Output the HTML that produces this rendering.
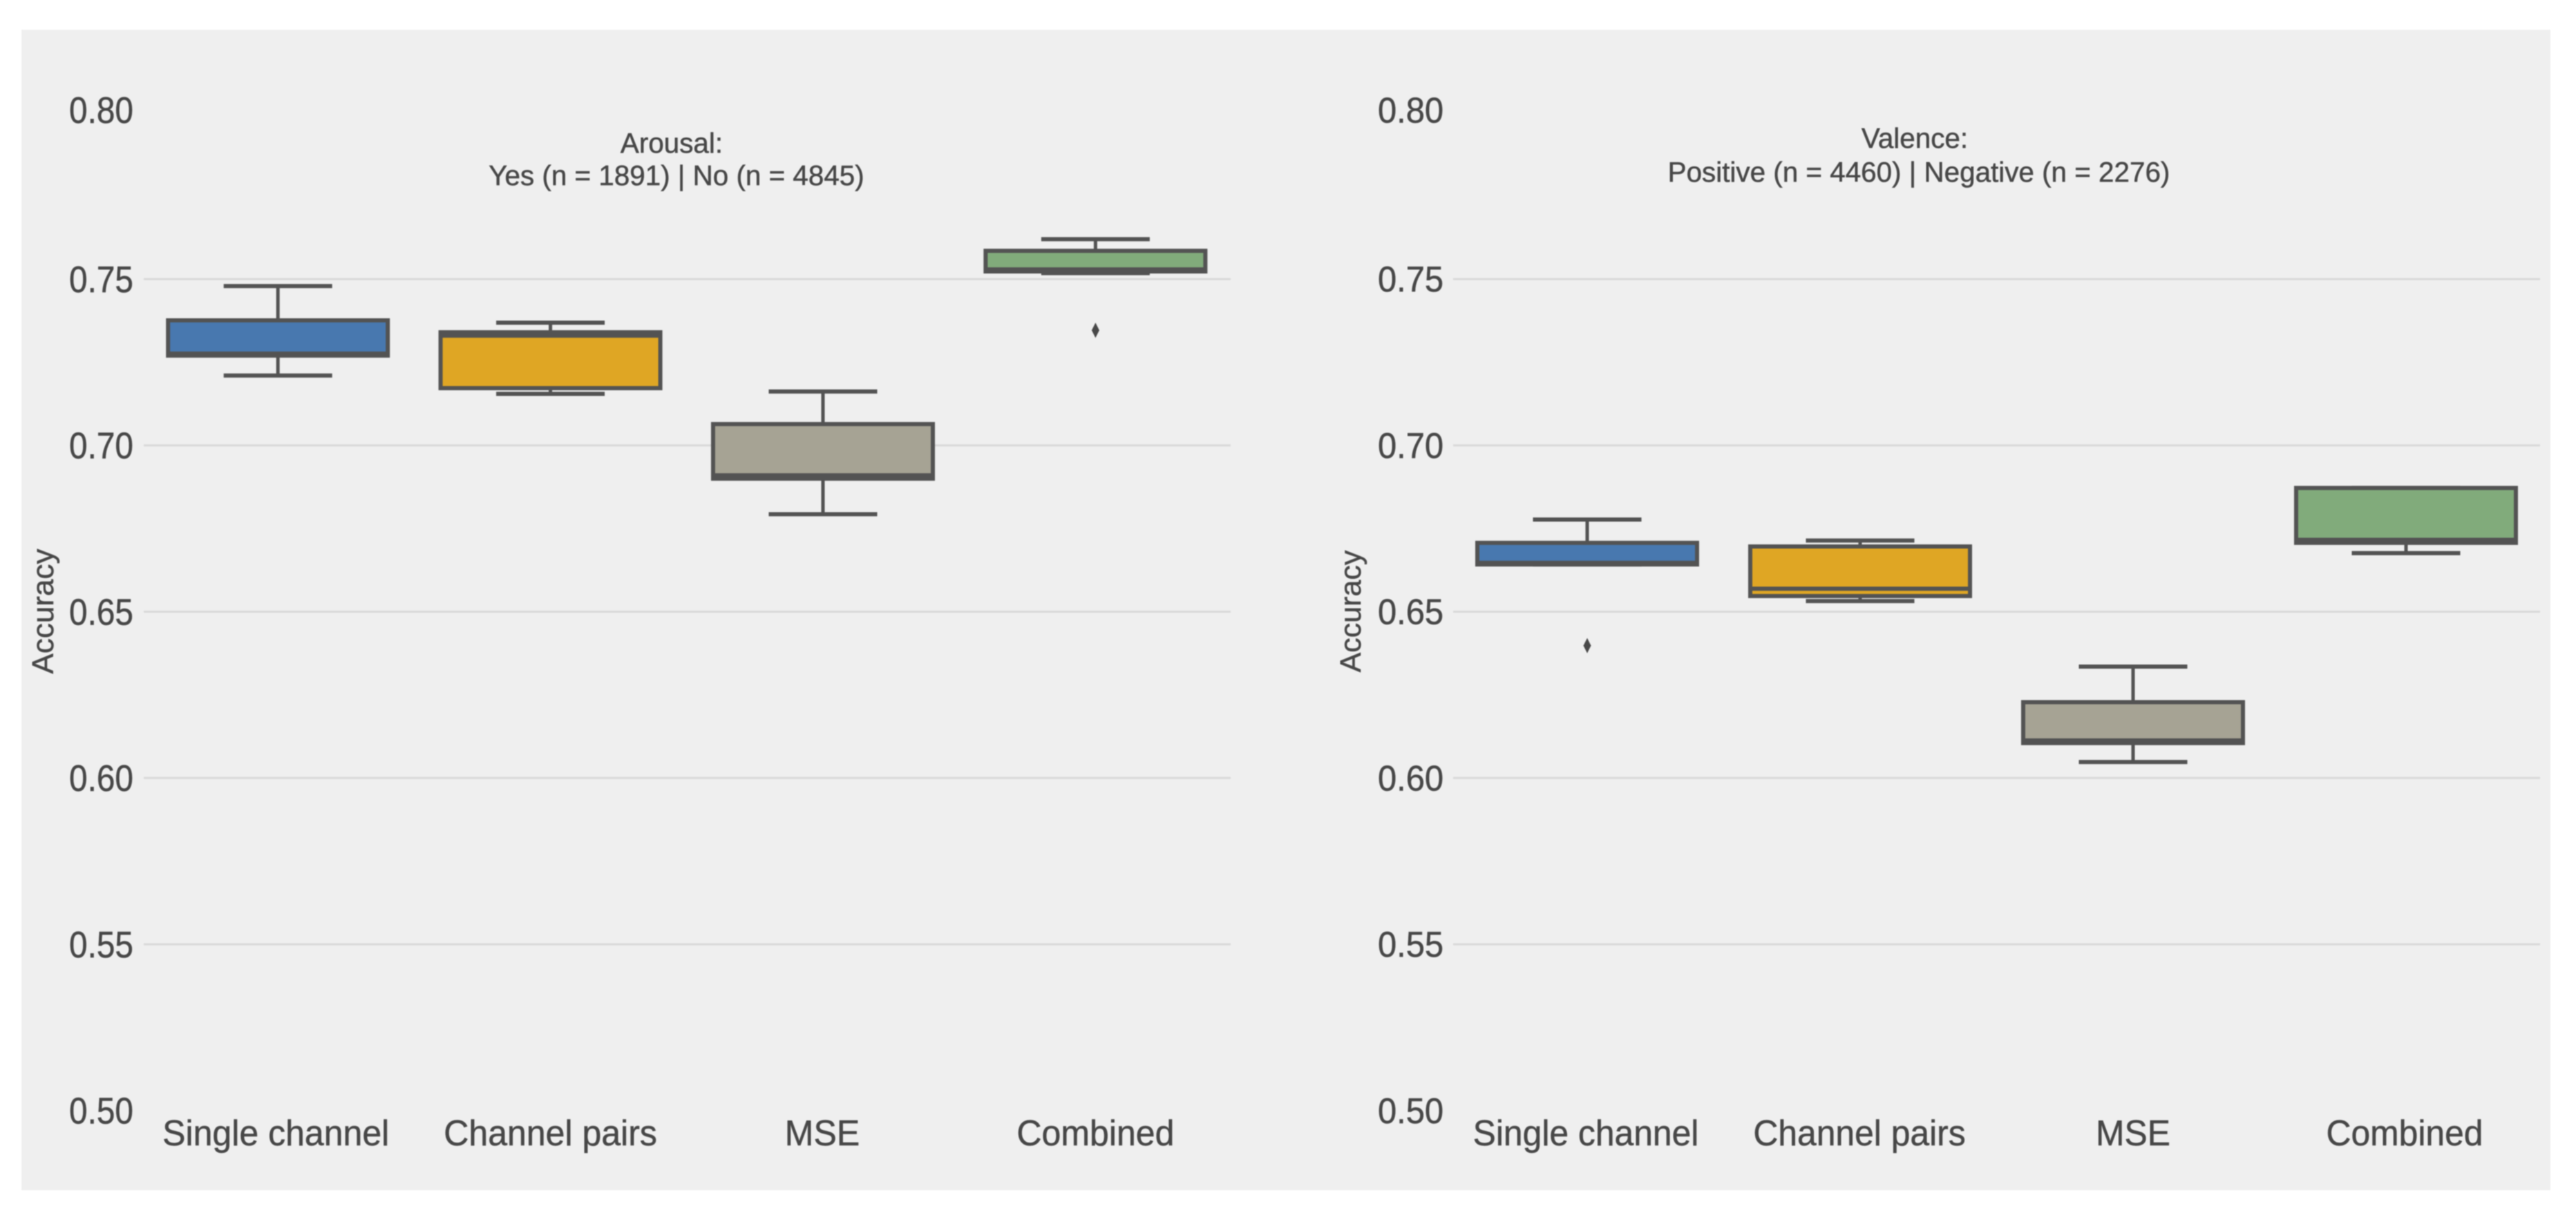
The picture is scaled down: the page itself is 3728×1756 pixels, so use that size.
<!DOCTYPE html>
<html lang="en">
<head>
<meta charset="utf-8">
<title>Accuracy box plots: Arousal and Valence</title>
<style>
  html, body { margin: 0; padding: 0; background: #ffffff; width: 3728px; height: 1756px; overflow: hidden; }
  svg { display: block; }
  text { font-family: "Liberation Sans", Arial, sans-serif; fill: #474747; stroke: #474747; stroke-width: 0.5px; }
</style>
</head>
<body>
<svg id="chart" xmlns="http://www.w3.org/2000/svg" width="3728" height="1756" viewBox="0 0 3728 1756">
  <g id="root" style="filter: blur(0.9px)">
    <rect x="31" y="43" width="3660" height="1680" fill="#efefef"></rect>
  </g>
</svg>
<script>
const categories = ["Single channel", "Channel pairs", "MSE", "Combined"];
const yTickValues = [0.80, 0.75, 0.70, 0.65, 0.60, 0.55, 0.50];
const yTickLabels = ["0.80", "0.75", "0.70", "0.65", "0.60", "0.55", "0.50"];
const boxColors = ["#4878af", "#dfa624", "#a6a394", "#81ab7b"];

const arousalWhiskerHigh = [0.7479, 0.7369, 0.7162, 0.7620];
const arousalQ3 = [0.7376, 0.7340, 0.7064, 0.7585];
const arousalMedian = [0.7276, 0.7330, 0.6910, 0.7529];
const arousalQ1 = [0.7270, 0.7172, 0.6900, 0.7523];
const arousalWhiskerLow = [0.7210, 0.7155, 0.6793, 0.7518];
const arousalOutliers = [null, null, null, 0.7346];

const valenceWhiskerHigh = [0.6777, 0.6714, 0.6335, 0.6872];
const valenceQ3 = [0.6707, 0.6696, 0.6228, 0.6872];
const valenceMedian = [0.6647, 0.6569, 0.6113, 0.6716];
const valenceQ1 = [0.6642, 0.6547, 0.6105, 0.6707];
const valenceWhiskerLow = [0.6642, 0.6532, 0.6048, 0.6676];
const valenceOutliers = [0.6398, null, null, null];

const SVG_NS = "http://www.w3.org/2000/svg";
const root = document.getElementById("root");
const LINE = "#535353";

function yScale(v) {
  return 404 + (0.75 - v) * 4815;
}

function make(tag, attrs, name, parent) {
  const el = document.createElementNS(SVG_NS, tag);
  for (const k in attrs) el.setAttribute(k, attrs[k]);
  
  
  parent.appendChild(el);
  return el;
}

function label(str, x, y, size, sx, name, parent) {
  const el = make("text", {
    "transform": "translate(" + x + "," + y + ") scale(" + sx + ",1)",
    "font-size": size,
    "text-anchor": "middle"
  }, name, parent);
  el.textContent = str;
  return el;
}

function drawPanel(p) {
  const g = make("g", {}, p.id + "-panel", root);
  const xCenter = function (i) { return p.x0 + (i + 0.5) * p.step; };

  yTickValues.forEach(function (t, i) {
    if (i > 0 && i < yTickValues.length - 1) {
      make("line", {
        x1: p.gridLeft, x2: p.gridRight, y1: yScale(t), y2: yScale(t),
        stroke: "#d9d9d9", "stroke-width": 3
      }, p.id + "-gridline-" + yTickLabels[i], g);
    }
    const nudge = i === 0 ? -4 : 0;
    label(yTickLabels[i], p.tickX, yScale(t) + nudge + p.tickFont * 0.35, p.tickFont, p.tickScale,
      p.id + "-y-tick-" + yTickLabels[i], g);
  });

  categories.forEach(function (cat, i) {
    const cx = xCenter(i);
    const slug = cat.toLowerCase().replace(/ /g, "-");
    const boxW = 318;
    const capW = 157;
    const box = make("g", {}, p.id + "-box-" + slug, g);
    make("line", { x1: cx, x2: cx, y1: yScale(p.high[i]), y2: yScale(p.q3[i]), stroke: LINE, "stroke-width": 5 }, "upper-whisker", box);
    make("line", { x1: cx, x2: cx, y1: yScale(p.q1[i]), y2: yScale(p.low[i]), stroke: LINE, "stroke-width": 5 }, "lower-whisker", box);
    make("line", { x1: cx - capW / 2, x2: cx + capW / 2, y1: yScale(p.high[i]), y2: yScale(p.high[i]), stroke: LINE, "stroke-width": 6 }, "upper-cap", box);
    make("line", { x1: cx - capW / 2, x2: cx + capW / 2, y1: yScale(p.low[i]), y2: yScale(p.low[i]), stroke: LINE, "stroke-width": 6 }, "lower-cap", box);
    make("rect", {
      x: cx - boxW / 2, y: yScale(p.q3[i]), width: boxW, height: yScale(p.q1[i]) - yScale(p.q3[i]),
      fill: boxColors[i], stroke: LINE, "stroke-width": 6
    }, "interquartile-box", box);
    make("line", { x1: cx - boxW / 2, x2: cx + boxW / 2, y1: yScale(p.median[i]), y2: yScale(p.median[i]), stroke: LINE, "stroke-width": 6 }, "median-line", box);
    if (p.outliers[i] !== null) {
      const oy = yScale(p.outliers[i]);
      make("path", {
        d: "M" + cx + " " + (oy - 11) + "L" + (cx + 5.5) + " " + oy + "L" + cx + " " + (oy + 11) + "L" + (cx - 5.5) + " " + oy + "Z",
        fill: "#484848"
      }, "outlier-point", box);
    }
    label(cat, cx + p.catShift[i], 1658, 52, p.catScale, p.id + "-x-label-" + slug, g);
  });

  label(p.title1, p.title1X, p.title1Y, 40.4, 1, p.id + "-title-line-1", g);
  label(p.title2, p.title2X, p.title2Y, 40.4, 1, p.id + "-title-line-2", g);

  const yl = make("text", {
    "transform": "translate(" + p.yLabelX + ",885) rotate(-90)",
    "font-size": p.yLabelFont,
    "text-anchor": "middle"
  }, p.id + "-y-axis-title", g);
  yl.textContent = "Accuracy";
}

drawPanel({
  id: "arousal", x0: 205, step: 394.4, gridLeft: 208, gridRight: 1781,
  tickX: 146.5, tickFont: 54, tickScale: 0.885, catScale: 0.962, catShift: [-3, 0, -1, 0],
  yLabelX: 77, yLabelFont: 44,
  title1: "Arousal:", title1X: 972, title1Y: 221,
  title2: "Yes (n = 1891) | No (n = 4845)", title2X: 979, title2Y: 268,
  high: arousalWhiskerHigh, q3: arousalQ3, median: arousalMedian, q1: arousalQ1, low: arousalWhiskerLow, outliers: arousalOutliers
});

drawPanel({
  id: "valence", x0: 2099.5, step: 395, gridLeft: 2103, gridRight: 3676,
  tickX: 2041.5, tickFont: 52, tickScale: 0.94, catScale: 0.958, catShift: [-2, -1, 0, -2],
  yLabelX: 1969, yLabelFont: 43,
  title1: "Valence:", title1X: 2771, title1Y: 214,
  title2: "Positive (n = 4460) | Negative (n = 2276)", title2X: 2777, title2Y: 263,
  high: valenceWhiskerHigh, q3: valenceQ3, median: valenceMedian, q1: valenceQ1, low: valenceWhiskerLow, outliers: valenceOutliers
});
</script>
</body>
</html>
